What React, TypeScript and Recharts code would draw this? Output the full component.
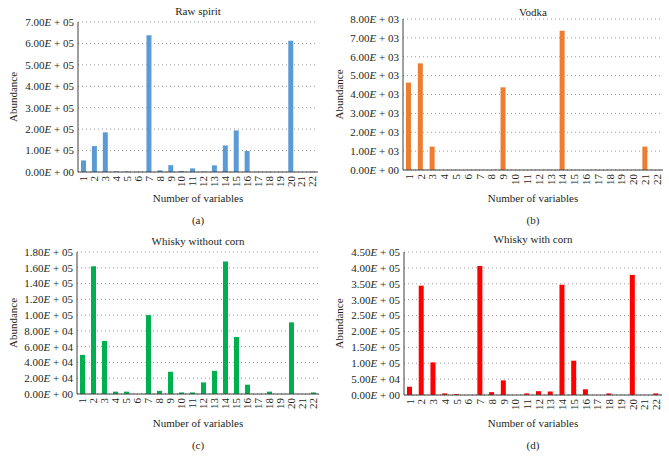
import { Bar, BarChart, CartesianGrid, XAxis, YAxis } from "recharts";

const CATEGORIES = [
  "1", "2", "3", "4", "5", "6", "7", "8", "9", "10", "11",
  "12", "13", "14", "15", "16", "17", "18", "19", "20", "21", "22",
];

const RAW_SPIRIT = [
  54000, 121000, 185000, 3000, 3000, 1000, 638000, 8000, 32000, 5000, 17000,
  2000, 31000, 124000, 194000, 98000, 1000, 1000, 1000, 613000, 0, 2000,
];
const VODKA = [
  4630, 5650, 1240, 0, 0, 0, 0, 0, 4380, 0, 0,
  0, 0, 7380, 0, 0, 0, 0, 0, 0, 1240, 0,
];
const WHISKY_NO_CORN = [
  49600, 161900, 67300, 3000, 3000, 0, 100000, 4000, 28200, 2000, 2000,
  14700, 29400, 167800, 72300, 11800, 0, 3000, 0, 90800, 0, 2000,
];
const WHISKY_CORN = [
  26000, 344000, 102600, 5000, 3000, 0, 406000, 9000, 46000, 0, 5000,
  12000, 11000, 347000, 108000, 18000, 0, 5000, 0, 378000, 0, 5000,
];

const RAW_TICKS = [0, 100000, 200000, 300000, 400000, 500000, 600000, 700000];
const VODKA_TICKS = [0, 1000, 2000, 3000, 4000, 5000, 6000, 7000, 8000];
const NO_CORN_TICKS = [
  0, 20000, 40000, 60000, 80000, 100000, 120000, 140000, 160000, 180000,
];
const CORN_TICKS = [
  0, 50000, 100000, 150000, 200000, 250000, 300000, 350000, 400000, 450000,
];

const FONT = "'Liberation Serif', 'DejaVu Serif', serif";
const INK = "#231f20";

function sci(v: number) {
  const exp = v === 0 ? 0 : Math.floor(Math.log10(v) + 1e-9);
  const mant = (v / Math.pow(10, exp)).toFixed(2);
  return { mant, exp: String(exp).padStart(2, "0") };
}

const YTick = (props: any) => {
  const { x, y, payload } = props;
  const { mant, exp } = sci(payload.value);
  return (
    <text x={x} y={y} dy="0.35em" textAnchor="end" fontSize={11} fontFamily={FONT} fill={INK}>
      {mant}
      <tspan fontStyle="italic">E</tspan>
      {` + ${exp}`}
    </text>
  );
};

const XTick = (props: any) => {
  const { x, y, payload } = props;
  return (
    <text
      x={x}
      y={y}
      dy="0.35em"
      textAnchor="end"
      transform={`rotate(-90, ${x}, ${y})`}
      fontSize={11}
      fontFamily={FONT}
      fill={INK}
    >
      {payload.value}
    </text>
  );
};

interface PanelProps {
  left: number;
  top: number;
  width: number;
  height: number;
  plotLeft: number;
  plotRight: number;
  plotTop: number;
  zeroY: number;
  title: string;
  titleY: number;
  letter: string;
  letterY: number;
  xLabelY: number;
  yLabelX: number;
  values: number[];
  ticks: number[];
  color: string;
}

function Panel(p: PanelProps) {
  const data = CATEGORIES.map((c, i) => ({ name: c, value: p.values[i] }));
  const center = (p.plotLeft + p.plotRight) / 2;
  const midY = (p.plotTop + p.zeroY) / 2;
  const textStyle = {
    position: "absolute" as const,
    fontFamily: FONT,
    fontSize: 11,
    color: INK,
    whiteSpace: "nowrap" as const,
    lineHeight: "12px",
  };
  return (
    <div style={{ position: "absolute", left: p.left, top: p.top, width: p.width, height: p.height }}>
      <BarChart
        width={p.width}
        height={p.height}
        data={data}
        margin={{ top: p.plotTop, right: p.width - p.plotRight, bottom: 0, left: 0 }}
      >
        <CartesianGrid vertical={false} stroke="#9a9a9a" strokeDasharray="1 3" />
        <XAxis
          dataKey="name"
          interval={0}
          height={p.height - p.zeroY}
          tickLine={false}
          tickSize={0}
          tickMargin={4}
          axisLine={{ stroke: "#404040" }}
          tick={<XTick />}
          label={{
            content: () => (
              <text x={center} y={p.xLabelY} dy="0.35em" textAnchor="middle" fontSize={11} fontFamily={FONT} fill={INK}>
                Number of variables
              </text>
            ),
          }}
        />
        <YAxis
          width={p.plotLeft}
          domain={[0, p.ticks[p.ticks.length - 1]]}
          ticks={p.ticks}
          interval={0}
          tickLine={false}
          tickSize={0}
          tickMargin={4}
          axisLine={{ stroke: "#404040" }}
          tick={<YTick />}
          label={{
            content: () => (
              <text
                x={p.yLabelX}
                y={midY}
                dy="0.35em"
                textAnchor="middle"
                transform={`rotate(-90, ${p.yLabelX}, ${midY})`}
                fontSize={11}
                fontFamily={FONT}
                fill={INK}
              >
                Abundance
              </text>
            ),
          }}
        />
        <Bar dataKey="value" fill={p.color} barSize={5} isAnimationActive={false} />
      </BarChart>
      <div style={{ ...textStyle, left: center, top: p.titleY - 6, transform: "translateX(-50%)" }}>{p.title}</div>
      <div style={{ ...textStyle, left: center, top: p.letterY - 6, transform: "translateX(-50%)" }}>{p.letter}</div>
    </div>
  );
}

export default function App() {
  return (
    <div style={{ position: "absolute", left: 0, top: 0, width: 669, height: 467, background: "#fff" }}>
      <Panel
        left={0} top={0} width={335} height={230}
        plotLeft={78} plotRight={318} plotTop={22} zeroY={172}
        title="Raw spirit" titleY={11} letter="(a)" letterY={220} xLabelY={198} yLabelX={13}
        values={RAW_SPIRIT} ticks={RAW_TICKS} color="#5b9bd5"
      />
      <Panel
        left={334} top={0} width={335} height={230}
        plotLeft={69} plotRight={329} plotTop={19} zeroY={170}
        title="Vodka" titleY={12} letter="(b)" letterY={220} xLabelY={198} yLabelX={5}
        values={VODKA} ticks={VODKA_TICKS} color="#ed7d31"
      />
      <Panel
        left={0} top={230} width={335} height={237}
        plotLeft={77} plotRight={319} plotTop={22} zeroY={164}
        title="Whisky without corn" titleY={11} letter="(c)" letterY={215} xLabelY={193} yLabelX={13}
        values={WHISKY_NO_CORN} ticks={NO_CORN_TICKS} color="#00b050"
      />
      <Panel
        left={334} top={230} width={335} height={237}
        plotLeft={70} plotRight={328} plotTop={22} zeroY={165}
        title="Whisky with corn" titleY={9} letter="(d)" letterY={215} xLabelY={193} yLabelX={5}
        values={WHISKY_CORN} ticks={CORN_TICKS} color="#ff0000"
      />
    </div>
  );
}
